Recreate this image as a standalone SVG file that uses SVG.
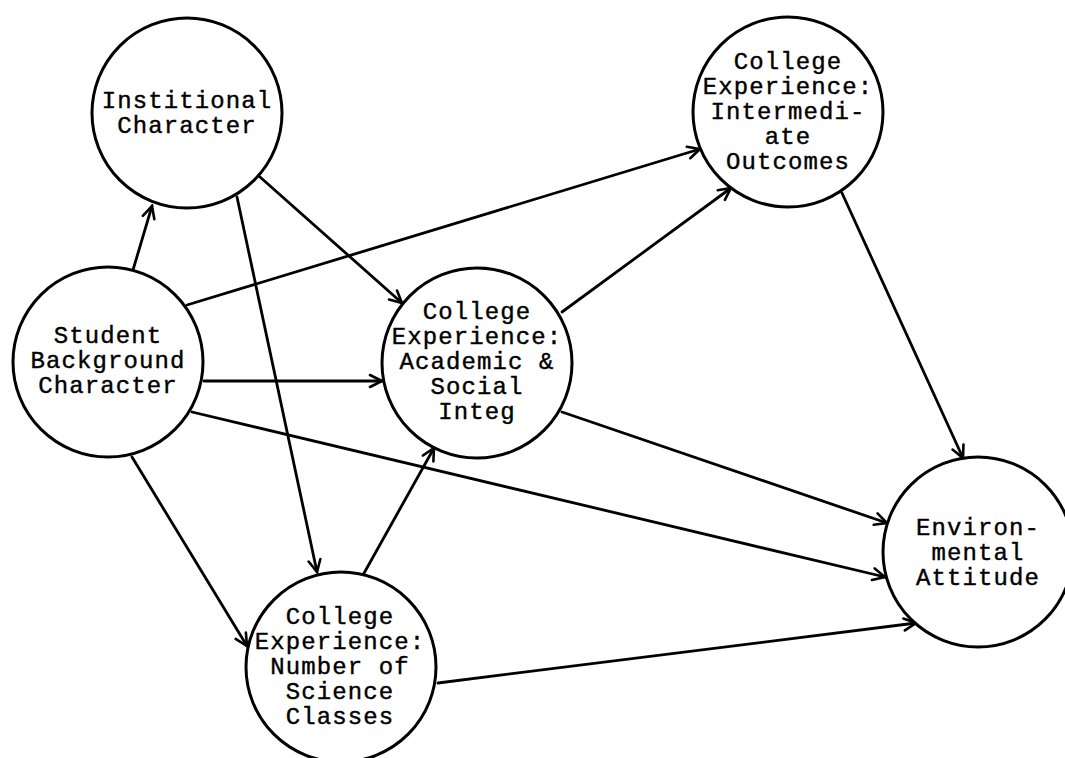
<svg xmlns="http://www.w3.org/2000/svg" width="1065" height="758" viewBox="0 0 1065 758">
<style>
.node circle{fill:#fff;stroke:#000;stroke-width:3}
.node text{font-family:"Liberation Mono","DejaVu Sans Mono",monospace;font-size:24px;letter-spacing:1.1px;text-anchor:middle;fill:#000;stroke:#000;stroke-width:0.4}
.edges line{stroke:#000;stroke-width:2.8;stroke-linecap:round;marker-end:url(#arr)}
</style>
<defs>
<marker id="arr" viewBox="-15 -8 17 16" refX="0" refY="0" markerWidth="17" markerHeight="16" markerUnits="userSpaceOnUse" orient="auto">
<path d="M-12,-6 L0,0 L-12,6" fill="none" stroke="#000" stroke-width="2.6" stroke-linecap="round" stroke-linejoin="miter"/>
</marker>
</defs>
<rect width="1065" height="758" fill="#fff"/>
<g class="edges">
<line x1="133" y1="270" x2="152" y2="206"/>
<line x1="260" y1="177" x2="402" y2="303"/>
<line x1="237" y1="197" x2="317" y2="572"/>
<line x1="187" y1="305" x2="700" y2="149"/>
<line x1="204" y1="381" x2="382" y2="381"/>
<line x1="192" y1="412" x2="885" y2="577"/>
<line x1="132" y1="457" x2="247" y2="646"/>
<line x1="363" y1="575" x2="434" y2="448"/>
<line x1="562" y1="312" x2="731" y2="188"/>
<line x1="562" y1="412" x2="887" y2="523"/>
<line x1="438" y1="683" x2="916" y2="623"/>
<line x1="842" y1="193" x2="963" y2="458"/>
</g>
<g id="institutional" class="node">
<circle cx="187" cy="113" r="95"/>
<text x="187" y="108">Institional</text>
<text x="187" y="133">Character</text>
</g>
<g id="student" class="node">
<circle cx="108" cy="362" r="95"/>
<text x="108" y="343">Student</text>
<text x="108" y="368">Background</text>
<text x="108" y="393">Character</text>
</g>
<g id="academic" class="node">
<circle cx="477" cy="363" r="95"/>
<text x="477" y="319">College</text>
<text x="477" y="344">Experience:</text>
<text x="477" y="369">Academic &amp;</text>
<text x="477" y="394">Social</text>
<text x="477" y="419">Integ</text>
</g>
<g id="intermediate" class="node">
<circle cx="788" cy="112" r="95"/>
<text x="788" y="69">College</text>
<text x="788" y="94">Experience:</text>
<text x="788" y="119">Intermedi-</text>
<text x="788" y="144">ate</text>
<text x="788" y="169">Outcomes</text>
</g>
<g id="science" class="node">
<circle cx="341" cy="667" r="95"/>
<text x="340" y="624">College</text>
<text x="340" y="649">Experience:</text>
<text x="340" y="674">Number of</text>
<text x="340" y="699">Science</text>
<text x="340" y="724">Classes</text>
</g>
<g id="environmental" class="node">
<circle cx="978" cy="552" r="95"/>
<text x="978" y="535">Environ-</text>
<text x="978" y="560">mental</text>
<text x="978" y="585">Attitude</text>
</g>
</svg>
